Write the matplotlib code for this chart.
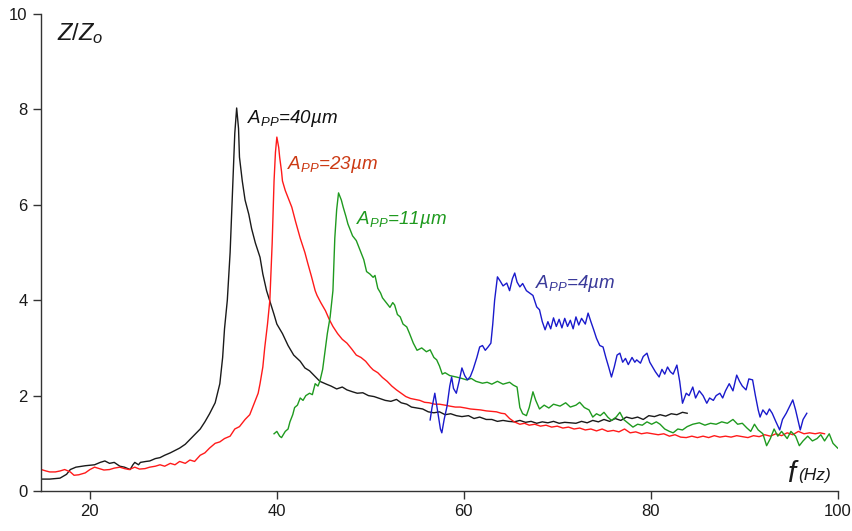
import matplotlib
matplotlib.use("Agg")
from matplotlib import pyplot as plt

# amplitude response Z/Zo vs frequency, four drive amplitudes
f_40 = [14.8, 15.7, 16.8, 17.5, 17.9, 18.5, 19.5, 20.5, 21.1, 21.6, 22.1, 22.6, 23.2, 23.7, 24.3,
        24.6, 24.8, 25.2, 25.4, 26.0, 26.4, 27.0, 27.5, 28.0, 28.6, 29.1, 29.6, 30.2, 30.7, 31.2,
        31.8, 32.3, 32.8, 33.4, 33.9, 34.2, 34.4, 34.7, 35.0, 35.3, 35.5, 35.7, 35.9, 36.0, 36.3,
        36.6, 37.0, 37.3, 37.7, 38.2, 38.5, 38.9, 39.3, 39.7, 40.0, 40.6, 41.2, 41.8, 42.5, 43.0,
        43.5, 44.0, 44.6, 45.3, 45.8, 46.4, 47.0, 47.5, 48.1, 48.6, 49.2, 49.8, 50.4, 51.0, 51.6,
        52.2, 52.8, 53.3, 53.9, 54.4, 55.0, 55.6, 56.2, 56.8, 57.4, 58.0, 58.6, 59.2, 59.8, 60.5,
        61.1, 61.7, 62.4, 63.0, 63.6, 64.2, 64.8, 65.4, 66.0, 66.6, 67.2, 67.8, 68.4, 69.0, 69.6,
        70.2, 70.8, 71.4, 72.0, 72.6, 73.2, 73.8, 74.4, 75.0, 75.6, 76.2, 76.8, 77.4, 78.0, 78.6,
        79.2, 79.8, 80.4, 81.0, 81.6, 82.2, 82.8, 83.4, 83.9]
z_40 = [0.25, 0.25, 0.27, 0.35, 0.45, 0.50, 0.53, 0.55, 0.60, 0.63, 0.58, 0.60, 0.52, 0.50, 0.45,
        0.55, 0.60, 0.55, 0.60, 0.62, 0.63, 0.68, 0.70, 0.75, 0.80, 0.85, 0.90, 0.98, 1.08, 1.18,
        1.30, 1.45, 1.62, 1.85, 2.25, 2.8, 3.4, 4.0, 5.0, 6.5, 7.5, 8.03, 7.6, 7.0, 6.5,
        6.1, 5.8, 5.5, 5.2, 4.9, 4.55, 4.2, 3.95, 3.7, 3.5, 3.3, 3.05, 2.85, 2.72, 2.58,
        2.52, 2.42, 2.30, 2.24, 2.20, 2.14, 2.18, 2.12, 2.08, 2.05, 2.06, 2.00, 1.98, 1.94, 1.90,
        1.88, 1.92, 1.85, 1.82, 1.76, 1.74, 1.72, 1.66, 1.64, 1.66, 1.60, 1.62, 1.58, 1.56, 1.58,
        1.52, 1.55, 1.50, 1.50, 1.46, 1.48, 1.46, 1.45, 1.48, 1.44, 1.46, 1.42, 1.45, 1.43, 1.46,
        1.42, 1.44, 1.43, 1.42, 1.46, 1.43, 1.48, 1.45, 1.50, 1.46, 1.52, 1.48, 1.55, 1.52, 1.55,
        1.50, 1.58, 1.56, 1.60, 1.57, 1.62, 1.60, 1.65, 1.63]

f_23 = [14.8, 15.3, 15.7, 16.3, 16.8, 17.3, 17.9, 18.3, 18.8, 19.5, 20.0, 20.5, 21.0, 21.5, 22.1,
        22.6, 23.2, 23.7, 24.2, 24.8, 25.3, 25.9, 26.4, 27.0, 27.5, 28.0, 28.6, 29.1, 29.6, 30.2,
        30.7, 31.2, 31.8, 32.3, 32.8, 33.4, 33.9, 34.4, 35.0, 35.5, 36.0, 36.6, 37.1, 37.6, 38.0,
        38.2, 38.5, 38.7, 39.0, 39.25, 39.5, 39.7, 39.85, 40.0, 40.2, 40.3, 40.5, 40.6, 40.9, 41.3,
        41.6, 42.0, 42.5, 43.0, 43.3, 43.7, 44.1, 44.3, 44.7, 45.2, 45.6, 46.0, 46.5, 47.0, 47.5,
        48.0, 48.5, 49.0, 49.5, 50.0, 50.3, 50.8, 51.3, 51.8, 52.3, 52.8, 53.3, 53.8, 54.3, 54.8,
        55.3, 55.8, 56.3, 56.9, 57.4, 58.0, 58.5, 59.1, 59.6, 60.2, 60.7, 61.3, 61.8, 62.4, 62.9,
        63.5, 64.0, 64.4, 64.9, 65.4, 66.0, 66.5, 67.0, 67.6, 68.2, 68.8, 69.4, 70.0, 70.6, 71.2,
        71.8, 72.4, 73.0, 73.6, 74.2, 74.8, 75.4, 76.0, 76.6, 77.2, 77.8, 78.4, 79.0, 79.6, 80.2,
        80.8, 81.4, 82.0, 82.6, 83.2, 83.8, 84.4, 85.0, 85.6, 86.2, 86.8, 87.4, 88.0, 88.6, 89.2,
        89.8, 90.4, 91.0, 91.6, 92.2, 92.8, 93.4, 94.0, 94.6, 95.2, 95.8, 96.4, 97.0, 97.6, 98.1,
        98.6]
z_23 = [0.45, 0.42, 0.40, 0.40, 0.42, 0.45, 0.40, 0.33, 0.34, 0.38, 0.45, 0.50, 0.47, 0.44, 0.45,
        0.48, 0.50, 0.47, 0.45, 0.50, 0.46, 0.47, 0.50, 0.52, 0.55, 0.52, 0.58, 0.55, 0.62, 0.58,
        0.65, 0.62, 0.75, 0.80, 0.90, 1.00, 1.03, 1.10, 1.15, 1.30, 1.35, 1.50, 1.60, 1.85, 2.05,
        2.25, 2.60, 3.0, 3.5, 4.0, 5.2, 6.5, 7.1, 7.42, 7.2, 7.0, 6.7, 6.5, 6.3, 6.1,
        5.95, 5.65, 5.3, 5.0, 4.78, 4.5, 4.2, 4.1, 3.95, 3.78, 3.6, 3.45, 3.3, 3.18, 3.1,
        2.98, 2.85, 2.80, 2.72, 2.60, 2.54, 2.48, 2.38, 2.30, 2.20, 2.12, 2.05, 1.98, 1.94, 1.92,
        1.90, 1.86, 1.85, 1.82, 1.82, 1.80, 1.78, 1.76, 1.76, 1.74, 1.72, 1.71, 1.70, 1.68, 1.67,
        1.66, 1.63, 1.62, 1.52, 1.45, 1.40, 1.42, 1.38, 1.40, 1.36, 1.38, 1.34, 1.36, 1.32, 1.34,
        1.30, 1.32, 1.28, 1.30, 1.26, 1.30, 1.25, 1.27, 1.24, 1.30, 1.22, 1.24, 1.20, 1.22, 1.20,
        1.18, 1.20, 1.15, 1.18, 1.13, 1.12, 1.15, 1.12, 1.15, 1.12, 1.16, 1.13, 1.15, 1.13, 1.16,
        1.14, 1.12, 1.16, 1.14, 1.18, 1.15, 1.20, 1.16, 1.22, 1.18, 1.25, 1.20, 1.22, 1.20, 1.22,
        1.20]

f_11 = [39.7, 40.0, 40.3, 40.5, 40.9, 41.2, 41.4, 41.7, 41.9, 42.2, 42.5, 42.8, 43.1, 43.5, 43.8,
        44.1, 44.4, 44.6, 44.9, 45.1, 45.4, 45.7, 46.0, 46.2, 46.4, 46.6, 46.9, 47.1, 47.4, 47.6,
        47.9, 48.1, 48.5, 48.9, 49.3, 49.6, 49.95, 50.3, 50.5, 50.8, 51.1, 51.3, 51.7, 52.1, 52.4,
        52.6, 52.9, 53.2, 53.5, 53.9, 54.2, 54.6, 55.0, 55.5, 56.0, 56.4, 56.8, 57.1, 57.4, 57.7,
        58.0, 58.5, 59.2, 59.8, 60.3, 60.8, 61.3, 62.0, 62.5, 63.0, 63.6, 64.2, 64.9, 65.3, 65.7,
        66.0, 66.3, 66.7, 67.0, 67.4, 67.7, 68.1, 68.6, 69.1, 69.6, 70.3, 70.9, 71.4, 72.0, 72.4,
        72.9, 73.4, 73.8, 74.2, 74.6, 75.0, 75.4, 75.8, 76.3, 76.7, 77.1, 77.6, 78.1, 78.6, 79.1,
        79.6, 80.1, 80.6, 81.0, 81.5, 82.0, 82.4, 82.9, 83.4, 83.9, 84.5, 85.2, 85.8, 86.4, 87.0,
        87.6, 88.2, 88.8, 89.3, 89.8, 90.3, 90.7, 91.1, 91.5, 92.0, 92.4, 92.8, 93.2, 93.6, 94.0,
        94.6, 95.0, 95.5, 95.9, 96.3, 96.8, 97.3, 97.8, 98.2, 98.6, 99.1, 99.5, 100.0]
z_11 = [1.20, 1.25, 1.15, 1.12, 1.25, 1.30, 1.45, 1.60, 1.75, 1.80, 1.95, 1.90, 2.00, 2.05, 2.02,
        2.25, 2.20, 2.30, 2.55, 2.85, 3.3, 3.65, 4.2, 5.3, 5.9, 6.25, 6.1, 5.95, 5.75, 5.6,
        5.45, 5.35, 5.25, 5.05, 4.85, 4.6, 4.55, 4.48, 4.52, 4.25, 4.15, 4.05, 3.95, 3.85, 3.95,
        3.9, 3.7, 3.65, 3.5, 3.44, 3.3, 3.1, 2.95, 3.0, 2.92, 2.96, 2.8, 2.75, 2.62, 2.45,
        2.48, 2.42, 2.39, 2.36, 2.33, 2.36, 2.30, 2.26, 2.28, 2.24, 2.30, 2.24, 2.28, 2.22, 2.18,
        1.75, 1.62, 1.58, 1.75, 2.08, 1.90, 1.72, 1.80, 1.74, 1.82, 1.78, 1.85, 1.76, 1.80, 1.86,
        1.75, 1.70, 1.55, 1.62, 1.58, 1.65, 1.55, 1.48, 1.55, 1.65, 1.50, 1.42, 1.34, 1.40, 1.38,
        1.45, 1.40, 1.45, 1.40, 1.30, 1.25, 1.22, 1.30, 1.28, 1.35, 1.40, 1.43, 1.38, 1.42, 1.40,
        1.45, 1.42, 1.50, 1.40, 1.42, 1.32, 1.25, 1.40, 1.28, 1.20, 0.95, 1.10, 1.30, 1.15, 1.25,
        1.10, 1.25, 1.15, 0.95, 1.05, 1.15, 1.05, 1.10, 1.18, 1.05, 1.20, 1.00, 0.90]

f_4 = [56.4, 56.6, 56.9, 57.1, 57.3, 57.5, 57.65, 57.9, 58.2, 58.5, 58.7, 58.9, 59.2, 59.5, 59.8,
       60.1, 60.4, 60.7, 61.0, 61.4, 61.7, 62.0, 62.3, 62.6, 62.9, 63.1, 63.3, 63.6, 63.9, 64.2,
       64.6, 64.9, 65.2, 65.45, 65.7, 66.0, 66.3, 66.7, 67.06, 67.4, 67.8, 68.1, 68.4, 68.7, 69.0,
       69.3, 69.6, 69.9, 70.2, 70.5, 70.8, 71.1, 71.4, 71.7, 72.0, 72.3, 72.6, 73.0, 73.3, 73.6,
       73.9, 74.2, 74.55, 74.9, 75.2, 75.5, 75.8, 76.1, 76.4, 76.7, 77.0, 77.3, 77.6, 78.0, 78.3,
       78.5, 78.9, 79.2, 79.6, 79.9, 80.2, 80.5, 80.9, 81.2, 81.5, 81.8, 82.1, 82.4, 82.8, 83.1,
       83.4, 83.8, 84.1, 84.5, 84.8, 85.2, 85.6, 86.0, 86.3, 86.7, 87.0, 87.4, 87.7, 88.0, 88.4,
       88.8, 89.2, 89.5, 89.8, 90.2, 90.5, 90.9, 91.2, 91.5, 91.7, 92.0, 92.4, 92.7, 93.0, 93.4,
       93.8, 94.1, 94.5, 94.8, 95.2, 95.5, 95.8, 96.0, 96.3, 96.7]
z_4 = [1.49, 1.75, 2.05, 1.80, 1.55, 1.30, 1.22, 1.50, 1.77, 2.20, 2.39, 2.15, 2.05, 2.30, 2.58,
       2.42, 2.33, 2.40, 2.55, 2.80, 3.02, 3.05, 2.95, 3.02, 3.10, 3.50, 4.00, 4.49, 4.40, 4.30,
       4.36, 4.20, 4.45, 4.57, 4.38, 4.28, 4.35, 4.20, 4.15, 4.10, 3.86, 3.80, 3.55, 3.38, 3.55,
       3.40, 3.63, 3.45, 3.60, 3.42, 3.62, 3.45, 3.58, 3.40, 3.65, 3.48, 3.62, 3.50, 3.73, 3.55,
       3.38, 3.20, 3.05, 3.02, 2.80, 2.60, 2.39, 2.60, 2.85, 2.89, 2.70, 2.78, 2.65, 2.80, 2.70,
       2.75, 2.68, 2.82, 2.89, 2.70, 2.60, 2.50, 2.39, 2.55, 2.45, 2.60, 2.50, 2.45, 2.64, 2.30,
       1.84, 2.05, 2.00, 2.18, 1.95, 2.10, 2.00, 1.84, 1.95, 1.90, 2.00, 2.05, 1.95, 2.10, 2.25,
       2.10, 2.43, 2.30, 2.20, 2.12, 2.35, 2.33, 2.00, 1.70, 1.55, 1.70, 1.60, 1.72, 1.63, 1.45,
       1.28, 1.50, 1.63, 1.75, 1.91, 1.70, 1.45, 1.28, 1.50, 1.63]

labels = ["40µm", "23µm", "11µm", "4µm"]

plt.rcParams["font.family"] = ["Liberation Sans", "DejaVu Sans"]
plt.rcParams["mathtext.fontset"] = "custom"
plt.rcParams["mathtext.rm"] = "Liberation Sans"
plt.rcParams["mathtext.it"] = "Liberation Sans:italic"

fig = plt.figure(figsize=(8.53, 5.31), dpi=100)
ax = fig.add_axes([0.048, 0.0753, 0.934, 0.8983])

ax.plot(f_40, z_40, color="#1a1a1a", lw=1.0)
ax.plot(f_23, z_23, color="#ff1a1a", lw=1.0)
ax.plot(f_11, z_11, color="#1f9a1f", lw=1.0)
ax.plot(f_4, z_4, color="#1a1acc", lw=1.0)

lab_kw = dict(fontsize=13.5, style="italic", va="center", ha="left")
ax.text(36.8, 7.8, r"$A_{PP}$=" + labels[0], color="#111111", **lab_kw)
ax.text(41.1, 6.85, r"$A_{PP}$=" + labels[1], color="#cc3a14", **lab_kw)
ax.text(48.5, 5.7, r"$A_{PP}$=" + labels[2], color="#1f9a1f", **lab_kw)
ax.text(67.6, 4.36, r"$A_{PP}$=" + labels[3], color="#3a3a9a", **lab_kw)

ax.text(16.5, 9.6, r"$Z/Z_o$", fontsize=17, color="#1a1a1a", va="center", ha="left")
ax.text(94.6, 0.36, r"$f$", fontsize=21, color="#1a1a1a", va="center", ha="left")
ax.text(95.8, 0.32, "(Hz)", fontsize=12.5, style="italic", color="#1a1a1a", va="center", ha="left")

ax.set_xlim(14.76, 100)
ax.set_ylim(0, 10)
ax.set_xticks([20, 40, 60, 80, 100])
ax.set_yticks([0, 2, 4, 6, 8, 10])
ax.spines["top"].set_visible(False)
ax.spines["right"].set_visible(False)
for s in ("left", "bottom"):
    ax.spines[s].set_color("#333333")
    ax.spines[s].set_linewidth(1.0)
ax.tick_params(direction="out", length=6, width=1, colors="#333333", labelsize=12,
               labelcolor="#1a1a1a")

fig.savefig("out.png", dpi=100)
